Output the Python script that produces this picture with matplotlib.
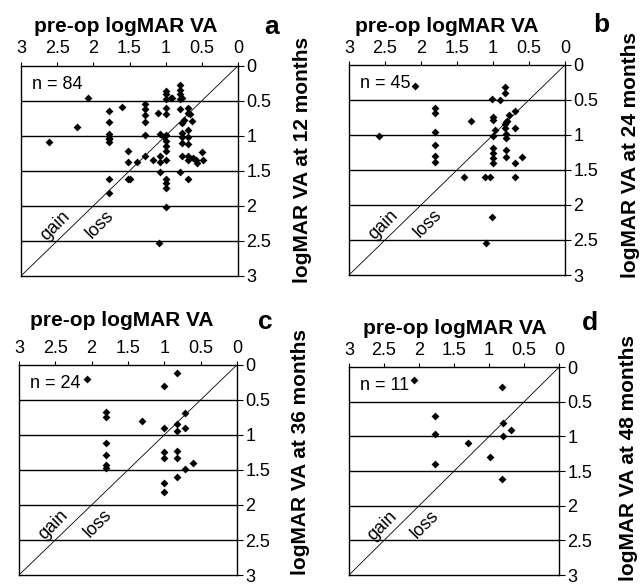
import matplotlib.pyplot as plt

plt.rcParams['font.family'] = ['Liberation Sans', 'DejaVu Sans']

# pre-op vs post-op logMAR VA
pre_12 = [2.08, 2.61, 2.22, 1.78, 1.78, 1.78, 1.78, 1.78, 1.78, 1.78,
          1.60, 1.28, 1.28, 1.28, 1.28, 1.28, 1.28, 1.52, 1.52, 1.40,
          1.52, 1.49, 1.17, 1.10, 1.08, 1.08, 1.08, 1.09, 0.99, 0.99,
          0.99, 0.99, 0.99, 0.99, 0.99, 0.99, 0.99, 0.99, 0.99, 0.99,
          0.99, 1.03, 1.00, 0.91, 0.80, 0.80, 0.80, 0.80, 0.77, 0.80,
          0.69, 0.69, 0.75, 0.78, 0.77, 0.77, 0.77, 0.69, 0.69, 0.69,
          0.78, 0.69, 0.69, 0.62, 0.58, 0.50, 0.48, 0.80, 0.69, 0.57,
          0.67, 0.63, 0.92, 1.08, 1.78]
post_12 = [0.46, 1.09, 0.87, 0.64, 0.81, 0.97, 1.03, 1.09, 1.61, 1.81,
           0.59, 0.55, 0.62, 0.70, 0.80, 0.99, 1.29, 1.21, 1.37, 1.37,
           1.61, 1.62, 1.35, 0.67, 1.29, 1.37, 1.51, 2.53, 0.36, 0.41,
           0.47, 0.60, 0.69, 0.99, 1.07, 1.15, 1.22, 1.35, 1.62, 1.67,
           1.74, 1.02, 2.01, 0.46, 0.27, 0.34, 0.41, 0.47, 0.46, 0.62,
           0.60, 0.68, 0.77, 0.82, 0.96, 1.02, 1.10, 0.92, 1.02, 1.12,
           1.29, 1.29, 1.35, 1.32, 1.35, 1.23, 1.35, 1.51, 1.61, 1.39,
           0.69, 0.79, 0.46, 0.98, 1.05]

pre_24 = [2.08, 2.59, 1.81, 1.81, 1.81, 1.81, 1.81, 1.81, 1.30, 1.41,
          1.11, 1.04, 0.69, 1.01, 0.90, 0.83, 0.83, 1.00, 1.00, 1.00,
          1.00, 1.00, 1.00, 1.00, 1.01, 1.10, 0.82, 0.80, 0.83, 0.69,
          0.69, 0.82, 0.82, 0.82, 0.82, 0.69, 0.60, 0.78, 0.97, 0.83]
post_24 = [0.30, 1.02, 0.62, 0.69, 0.96, 1.15, 1.30, 1.38, 0.80, 1.60,
           1.60, 1.60, 1.60, 0.49, 0.50, 0.31, 0.40, 0.74, 0.79, 1.02,
           1.18, 1.26, 1.33, 1.40, 2.17, 2.55, 0.81, 0.80, 0.90, 0.66,
           0.90, 0.98, 1.05, 1.22, 1.32, 1.40, 1.31, 0.72, 0.93, 0.85]

pre_36 = [2.07, 1.01, 0.83, 1.80, 1.80, 1.80, 1.80, 1.80, 1.80, 1.30,
          1.01, 0.83, 0.83, 0.72, 0.72, 1.01, 1.01, 0.83, 0.83, 0.72,
          0.61, 0.83, 1.01, 1.01]
post_36 = [0.20, 0.30, 0.11, 0.67, 0.74, 1.12, 1.29, 1.43, 1.47, 0.80,
           0.90, 0.85, 0.95, 0.69, 0.90, 1.25, 1.33, 1.23, 1.33, 1.48,
           1.40, 1.60, 1.69, 1.81]

pre_48 = [2.07, 0.82, 1.77, 1.77, 1.77, 1.30, 0.99, 0.80, 0.80, 0.69, 0.82]
post_48 = [0.18, 0.29, 0.71, 0.96, 1.40, 1.10, 1.29, 0.81, 1.00, 0.90, 1.61]

panels = [
    ('a', '12', 'n = 84', pre_12, post_12, [0.0328, 0.530, 0.3385, 0.358]),
    ('b', '24', 'n = 45', pre_24, post_24, [0.5445, 0.5315, 0.337, 0.358]),
    ('c', '36', 'n = 24', pre_36, post_36, [0.0296, 0.0204, 0.340, 0.358]),
    ('d', '48', 'n = 11', pre_48, post_48, [0.5445, 0.0204, 0.3276, 0.354]),
]
ticks = [0, 0.5, 1, 1.5, 2, 2.5, 3]
tick_labels = ['0', '0.5', '1', '1.5', '2', '2.5', '3']

# title / letter / ylabel positions in pixels (x, y from top)
title_pos = {'a': (126, 27), 'b': (447, 27), 'c': (122, 320), 'd': (455, 328)}
letter_pos = {'a': (272, 27), 'b': (601, 25), 'c': (265, 322), 'd': (590, 323)}
ylab_pos = {'a': (302, 160), 'b': (631, 155), 'c': (301, 452), 'd': (629, 458)}

W, H = 641, 587
fig = plt.figure(figsize=(6.41, 5.87), dpi=100)

for letter, months, ntext, pre, post, rect in panels:
    ax = fig.add_axes(rect)
    ax.set_xlim(3, 0)
    ax.set_ylim(3, 0)
    ax.xaxis.tick_top()
    ax.yaxis.tick_right()
    ax.set_xticks(ticks)
    ax.set_xticklabels(tick_labels)
    ax.set_yticks(ticks)
    ax.set_yticklabels(tick_labels)
    ax.tick_params(axis='x', length=3, width=0.8, pad=3, labelsize=13)
    ax.tick_params(axis='y', length=4, width=0.8, pad=2, labelsize=13)
    for s in ax.spines.values():
        s.set_linewidth(1.0)
    for g in ticks[1:-1]:
        ax.axhline(g, color='black', lw=1.0, zorder=1)
    ax.plot([3, 0], [3, 0], color='black', lw=0.6, zorder=1)
    ax.scatter(pre, post, marker='D', s=16, color='black', zorder=3, linewidths=0)
    ax.text(2.85, 0.27, ntext, fontsize=13, ha='left', va='center')
    ax.text(2.53, 2.29, 'gain', fontsize=13, rotation=45, ha='center', va='center')
    ax.text(1.91, 2.27, 'loss', fontsize=13, rotation=45, ha='center', va='center')

    tx, ty = title_pos[letter]
    fig.text(tx / W, 1 - ty / H, 'pre-op logMAR VA', fontsize=15, fontweight='bold',
             ha='center', va='center')
    lx, ly = letter_pos[letter]
    fig.text(lx / W, 1 - ly / H, letter, fontsize=19, fontweight='bold',
             ha='center', va='center')
    yx, yy = ylab_pos[letter]
    fig.text(yx / W, 1 - yy / H, 'logMAR VA at ' + months + ' months', fontsize=15,
             fontweight='bold', rotation=90, ha='center', va='center')

fig.savefig('out.png', dpi=100)
